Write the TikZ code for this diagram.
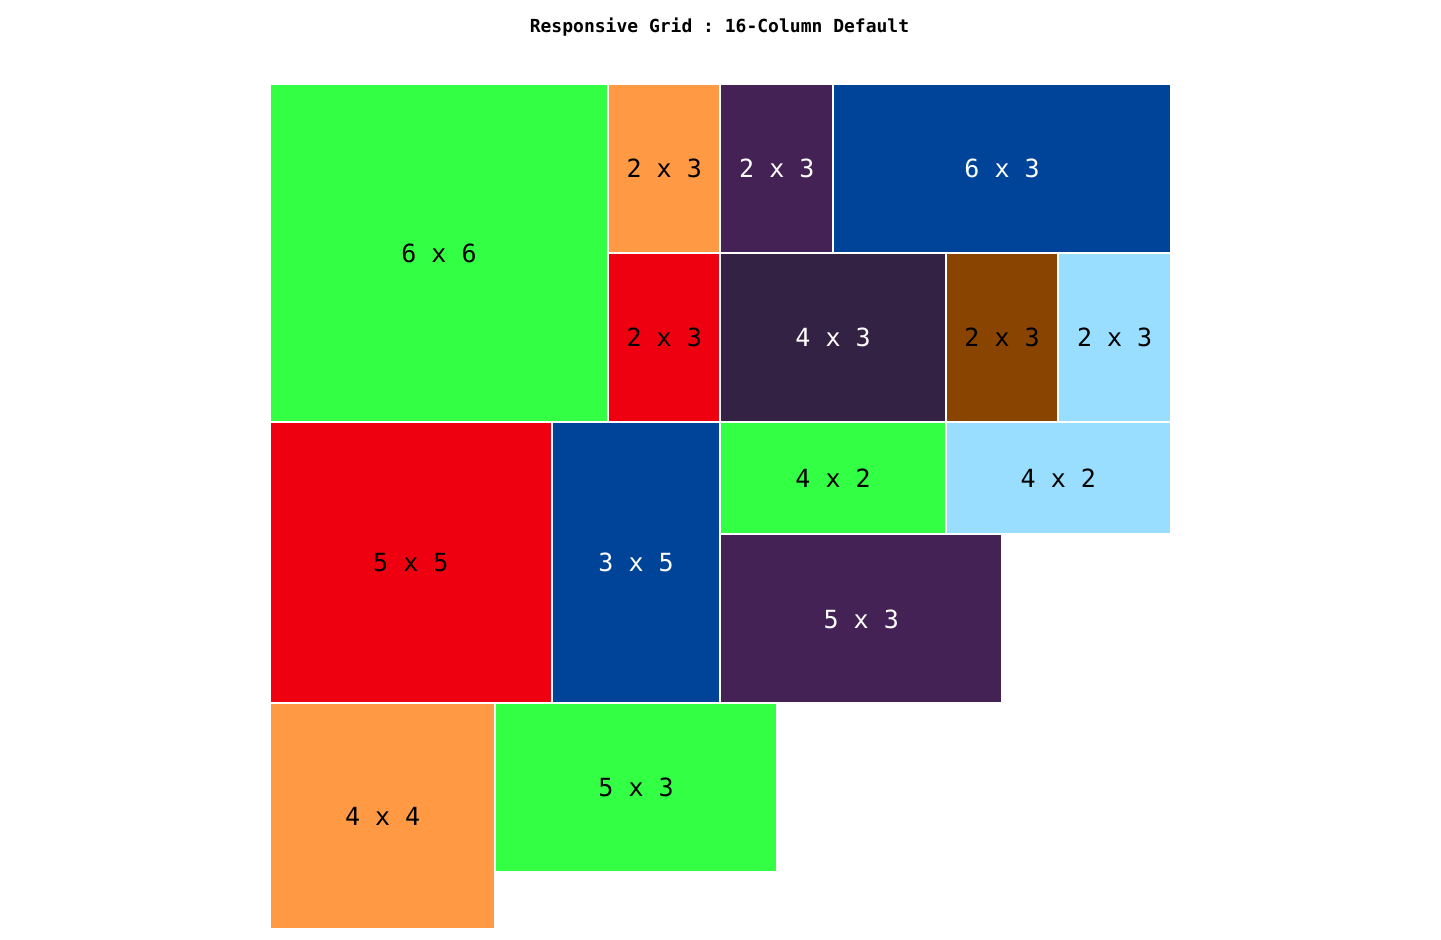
\documentclass[tikz,border=0pt]{standalone}
\usepackage{fontspec}
\setmonofont{DejaVu Sans Mono}
\definecolor{gridgreen}{HTML}{33FF44}
\definecolor{gridorange}{HTML}{FF9944}
\definecolor{gridpurple}{HTML}{442255}
\definecolor{gridblue}{HTML}{004499}
\definecolor{gridred}{HTML}{EE0011}
\definecolor{griddark}{HTML}{332244}
\definecolor{gridbrown}{HTML}{884400}
\definecolor{gridsky}{HTML}{99DDFF}
\tikzset{
  % one cell of the grid, #1 columns wide and #2 rows high
  cell/.style 2 args={
    anchor=north west,draw=white,line width=1pt,inner sep=0pt,
    minimum width=#1*28.15pt,minimum height=#2*28.15pt,
    font=\ttfamily\fontsize{12.5}{15}\selectfont
  },
  dark cell/.style={text=white},
}

\begin{document}
\begin{tikzpicture}[x=28.15pt,y=-28.15pt]
\useasboundingbox (-4.778,-1.474) rectangle (20.814,15.204);
\node[font=\ttfamily\bfseries\fontsize{9}{11}\selectfont] (title) at (8,-1.0)
  {Responsive Grid : 16-Column Default};
% first band
\node[cell={6}{6},fill=gridgreen] (a) at (0,0) {6 x 6};
\node[cell={2}{3},fill=gridorange] (b) at (6,0) {2 x 3};
\node[cell={2}{3},fill=gridpurple,dark cell] (c) at (8,0) {2 x 3};
\node[cell={6}{3},fill=gridblue,dark cell] (d) at (10,0) {6 x 3};
\node[cell={2}{3},fill=gridred] (e) at (6,3) {2 x 3};
\node[cell={4}{3},fill=griddark,dark cell] (f) at (8,3) {4 x 3};
\node[cell={2}{3},fill=gridbrown] (g) at (12,3) {2 x 3};
\node[cell={2}{3},fill=gridsky] (h) at (14,3) {2 x 3};
% second band
\node[cell={5}{5},fill=gridred] (i) at (0,6) {5 x 5};
\node[cell={3}{5},fill=gridblue,dark cell] (j) at (5,6) {3 x 5};
\node[cell={4}{2},fill=gridgreen] (k) at (8,6) {4 x 2};
\node[cell={4}{2},fill=gridsky] (l) at (12,6) {4 x 2};
\node[cell={5}{3},fill=gridpurple,dark cell] (m) at (8,8) {5 x 3};
% third band
\node[cell={4}{4},fill=gridorange] (n) at (0,11) {4 x 4};
\node[cell={5}{3},fill=gridgreen] (o) at (4,11) {5 x 3};
\end{tikzpicture}
\end{document}
